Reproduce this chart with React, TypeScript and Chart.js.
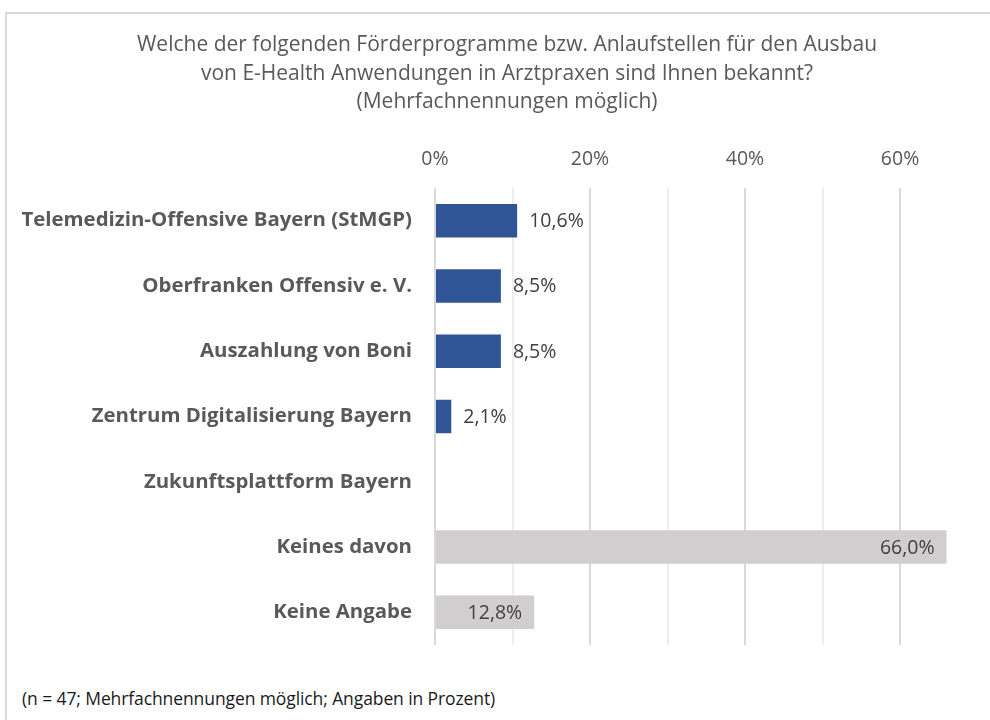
import React, { useEffect, useRef } from "react";
import { Chart, registerables } from "chart.js";

Chart.register(...registerables);

const categories = [
  "Telemedizin-Offensive Bayern (StMGP)",
  "Oberfranken Offensiv e. V.",
  "Auszahlung von Boni",
  "Zentrum Digitalisierung Bayern",
  "Zukunftsplattform Bayern",
  "Keines davon",
  "Keine Angabe",
];
const values = [10.6, 8.5, 8.5, 2.1, 0, 66.0, 12.8];
const barColors = ["#2F5597", "#2F5597", "#2F5597", "#2F5597", "#2F5597", "#D0CECE", "#D0CECE"];
const insideLabel = [false, false, false, false, false, true, true];
const tickValues = [0, 10, 20, 30, 40, 50, 60];
const titleLines = [
  "Welche der folgenden Förderprogramme bzw. Anlaufstellen für den Ausbau",
  "von E-Health Anwendungen in Arztpraxen sind Ihnen bekannt?",
  "(Mehrfachnennungen möglich)",
];
const footnote = "(n = 47; Mehrfachnennungen möglich; Angaben in Prozent)";

const FONT = "'Open Sans', 'Noto Sans', sans-serif";

const fmt = (v: number) => v.toFixed(1).replace(".", ",") + "%";

const labelPlugin = {
  id: "barLabels",
  afterDatasetsDraw(chart: any) {
    const ctx = chart.ctx;
    const meta = chart.getDatasetMeta(0);
    ctx.save();
    ctx.font = `19.5px ${FONT}`;
    ctx.fillStyle = "#404040";
    ctx.textBaseline = "middle";
    meta.data.forEach((el: any, i: number) => {
      const v = values[i];
      if (!v) return;
      if (insideLabel[i]) {
        ctx.textAlign = "right";
        ctx.fillText(fmt(v), el.x - 12, el.y + 1);
      } else {
        ctx.textAlign = "left";
        ctx.fillText(fmt(v), el.x + 12, el.y + 1);
      }
    });
    ctx.restore();
  },
};

export default function App() {
  const ref = useRef<HTMLCanvasElement | null>(null);
  useEffect(() => {
    if (!ref.current) return;
    const chart = new Chart(ref.current, {
      type: "bar",
      data: {
        labels: categories,
        datasets: [
          {
            data: values,
            backgroundColor: barColors,
            borderWidth: 0,
            barPercentage: 1,
            categoryPercentage: 0.513,
          },
        ],
      },
      options: {
        indexAxis: "y",
        animation: false,
        responsive: false,
        layout: { padding: { top: 0, bottom: 9, left: 0, right: 0 } },
        plugins: {
          legend: { display: false },
          tooltip: { enabled: false },
          title: {
            display: true,
            text: titleLines,
            color: "#595959",
            font: { family: FONT, size: 21, weight: "normal", lineHeight: 1.357 },
            padding: { top: 17, bottom: 10 },
          },
        },
        scales: {
          x: {
            position: "top",
            min: 0,
            max: 73.8,
            afterBuildTicks: (scale: any) => {
              scale.ticks = tickValues.map((v) => ({ value: v }));
            },
            afterFit: (scale: any) => {
              scale.height = 61.5;
              scale.paddingLeft = 0;
              scale.paddingRight = 0;
            },
            grid: {
              drawTicks: false,
              color: (c: any) => (c.tick && c.tick.value % 20 === 0 ? "#D9D9D9" : "#EDEDED"),
              lineWidth: 2,
            },
            border: { display: false },
            ticks: {
              padding: 17,
              color: "#595959",
              font: { family: FONT, size: 19.5 },
              callback: (v: any) => (Number(v) % 20 === 0 ? `${v}%` : ""),
            },
          },
          y: {
            afterFit: (scale: any) => {
              scale.width = 428;
              scale.paddingTop = 0;
              scale.paddingBottom = 0;
            },
            grid: { display: false, drawTicks: false },
            border: { display: false },
            ticks: {
              padding: 23,
              color: "#595959",
              font: { family: FONT, size: 20.4, weight: "bold" },
            },
          },
        },
      },
      plugins: [labelPlugin],
    });
    return () => chart.destroy();
  }, []);

  return (
    <div
      style={{
        position: "absolute",
        left: 5,
        top: 12,
        width: 985,
        height: 708,
        overflow: "hidden",
      }}
    >
      <div
        style={{
          position: "absolute",
          left: 0,
          top: 0,
          width: 1000,
          height: 720,
          border: "2px solid #D9D9D9",
          background: "#fff",
        }}
      >
        <canvas ref={ref} width={1000} height={640} style={{ display: "block" }} />
        <div
          style={{
            position: "absolute",
            left: 15,
            top: 672,
            fontFamily: FONT,
            fontSize: 17.5,
            lineHeight: "24px",
            color: "#1a1a1a",
            whiteSpace: "nowrap",
            letterSpacing: -0.1,
          }}
        >
          {footnote}
        </div>
      </div>
    </div>
  );
}
